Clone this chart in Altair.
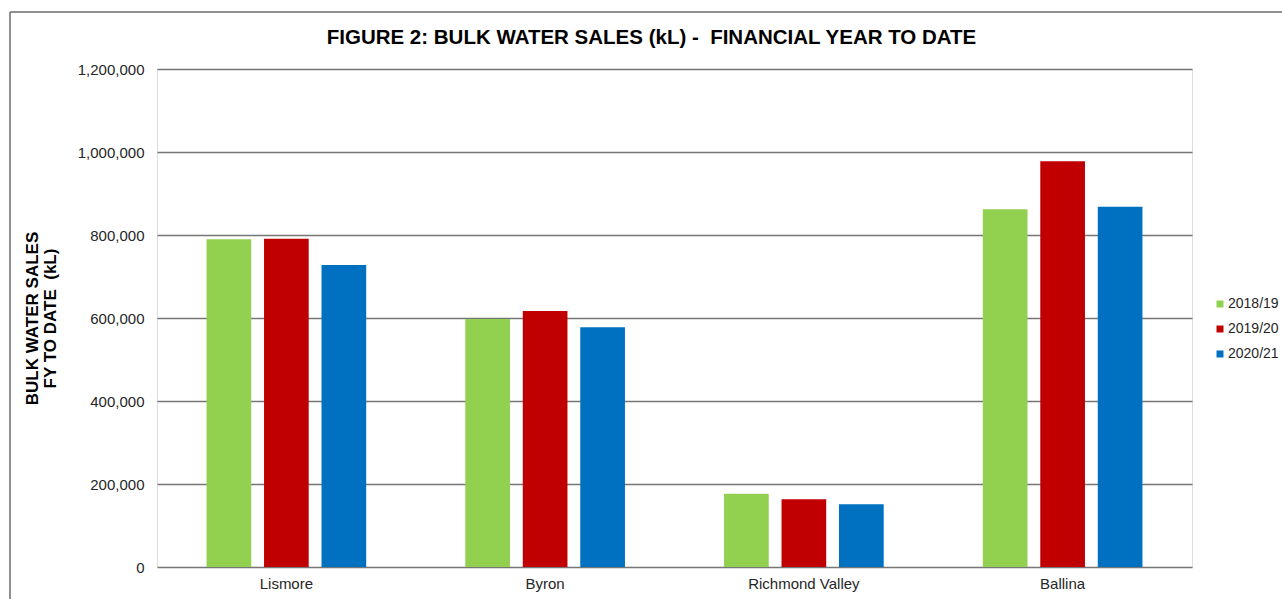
import altair as alt
import pandas as pd

regions = ["Lismore", "Byron", "Richmond Valley", "Ballina"]
years = ["2018/19", "2019/20", "2020/21"]
sales_2018_19 = [789600, 597600, 176600, 862000]
sales_2019_20 = [791000, 617000, 163000, 977600]
sales_2020_21 = [727700, 578000, 151000, 868000]
colors = ["#92D050", "#C00000", "#0070C0"]
y_ticks = [0, 200000, 400000, 600000, 800000, 1000000, 1200000]

rows = []
for yr, vals in zip(years, [sales_2018_19, sales_2019_20, sales_2020_21]):
    for reg, v in zip(regions, vals):
        rows.append({"region": reg, "year": yr, "sales": v})
df = pd.DataFrame(rows)

FONT = "Liberation Sans, Arial, sans-serif"

bars = alt.Chart(df).mark_bar().encode(
    x=alt.X("region:N", sort=regions,
            scale=alt.Scale(paddingInner=0.383, paddingOuter=0.1915),
            axis=alt.Axis(title=None, labelAngle=0, ticks=False, domain=False,
                          labelPadding=9, labelFontSize=15, labelFont=FONT,
                          labelColor="#262626")),
    xOffset=alt.XOffset("year:N", sort=years,
                        scale=alt.Scale(paddingInner=0.2226, paddingOuter=0)),
    y=alt.Y("sales:Q",
            scale=alt.Scale(domain=[0, 1200000], nice=False),
            axis=alt.Axis(values=y_ticks, format=",.0f", ticks=False, domain=False,
                          labelPadding=13, labelFontSize=15, labelFont=FONT,
                          labelColor="#262626",
                          gridColor="#767676", gridWidth=1.6,
                          title=["BULK WATER SALES", "FY TO DATE\u00a0 (kL)"],
                          titleFont=FONT, titleFontSize=17, titleFontWeight="bold",
                          titleColor="#000000", titleAngle=270, titleAlign="center",
                          titleBaseline="middle", titleLineHeight=18,
                          titleX=-125, titleY=249)),
    color=alt.Color("year:N", sort=years,
                    scale=alt.Scale(domain=years, range=colors),
                    legend=alt.Legend(title=None, orient="none", legendX=1056, legendY=228,
                                      symbolType="square", symbolSize=49,
                                      symbolStrokeWidth=0, labelFontSize=14,
                                      labelFont=FONT, labelColor="#262626",
                                      labelOffset=1, rowPadding=11, padding=0)),
)

frame_df = pd.DataFrame({"k": [0]})
frame_left = alt.Chart(frame_df).mark_rule(color="#6b6b6b", strokeWidth=1.5).encode(
    x=alt.value(-147), y=alt.value(-57), y2=alt.value(532))
frame_top = alt.Chart(frame_df).mark_rule(color="#6b6b6b", strokeWidth=1.5).encode(
    x=alt.value(-147), x2=alt.value(1125), y=alt.value(-57))

chart = alt.layer(bars, frame_left, frame_top).properties(
    width=1035, height=498,
    autosize=alt.AutoSizeParams(type="none"),
    padding={"left": 157, "top": 69, "right": 90, "bottom": 32},
    title=alt.TitleParams("FIGURE 2: BULK WATER SALES (kL) -\u00a0 FINANCIAL YEAR TO DATE",
                          font=FONT, fontSize=20.5, fontWeight="bold", color="#000000",
                          anchor="middle", frame="group", dx=-23, offset=-37),
).configure_view(stroke=None).configure(background="white")

chart.save("out.html", embed_options={"renderer": "svg", "actions": False})
